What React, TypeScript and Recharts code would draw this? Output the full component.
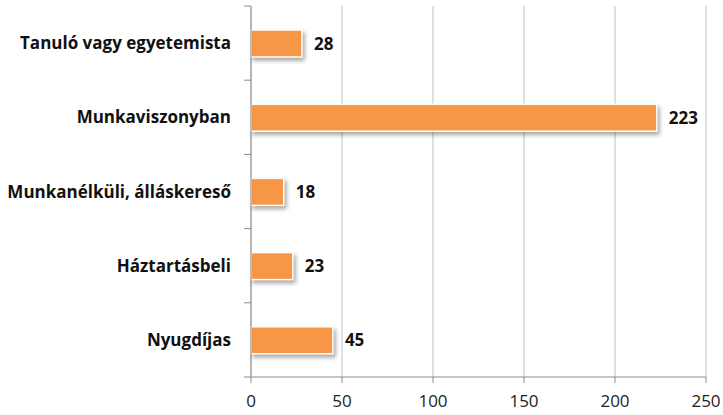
import React from "react";
import {
  BarChart,
  Bar,
  XAxis,
  YAxis,
  CartesianGrid,
  LabelList
} from "recharts";

const categories = [
  "Tanuló vagy egyetemista",
  "Munkaviszonyban",
  "Munkanélküli, álláskereső",
  "Háztartásbeli",
  "Nyugdíjas"
];
const counts = [28, 223, 18, 23, 45];
const xTicks = [0, 50, 100, 150, 200, 250];

const data = categories.map((name, i) => ({ name, value: counts[i] }));

const font = "Open Sans, Noto Sans, sans-serif";
const axisX = 251;
const halfBand = 37.1;

const ShadowBar = (props: any) => {
  const { x, y, width, height } = props;
  return (
    <rect
      x={x}
      y={y}
      width={width}
      height={height}
      fill="#F79646"
      stroke="#ffffff"
      strokeWidth={1.5}
      style={{ filter: "drop-shadow(2px 3px 2px rgba(0,0,0,0.35))" }}
    />
  );
};

// category label plus Excel-style tick marks on the band edges
const CategoryTick = (props: any) => {
  const { x, y, payload, index } = props;
  return (
    <g>
      <line x1={axisX - 7} x2={axisX} y1={y - halfBand} y2={y - halfBand} stroke="#8C8C8C" />
      {index === categories.length - 1 && (
        <line x1={axisX - 7} x2={axisX} y1={y + halfBand} y2={y + halfBand} stroke="#8C8C8C" />
      )}
      <text
        x={x}
        y={y}
        dy="0.355em"
        textAnchor="end"
        fill="#111"
        fontSize={17}
        fontWeight={700}
        fontFamily={font}
      >
        {payload.value}
      </text>
    </g>
  );
};

const App: React.FC = () => {
  return (
    <div style={{ position: "absolute", left: 0, top: 0, width: 723, height: 415 }}>
      <BarChart
        width={723}
        height={415}
        data={data}
        layout="vertical"
        margin={{ top: 6, right: 17, bottom: 8, left: 0 }}
      >
        <CartesianGrid vertical={true} horizontal={false} stroke="#BFBFBF" />
        <XAxis
          type="number"
          domain={[0, 250]}
          ticks={xTicks}
          height={30}
          stroke="#8C8C8C"
          tickSize={6}
          tickMargin={12}
          tick={{ fill: "#222", fontSize: 17, fontFamily: font }}
        />
        <YAxis
          type="category"
          dataKey="name"
          width={251}
          stroke="#8C8C8C"
          tickLine={false}
          tickMargin={14}
          tick={CategoryTick}
        />
        <Bar
          dataKey="value"
          barSize={27}
          shape={ShadowBar}
          isAnimationActive={false}
        >
          <LabelList
            dataKey="value"
            position="right"
            offset={12}
            style={{ fill: "#111", fontSize: 17, fontWeight: 700, fontFamily: font }}
          />
        </Bar>
      </BarChart>
    </div>
  );
};

export default App;
